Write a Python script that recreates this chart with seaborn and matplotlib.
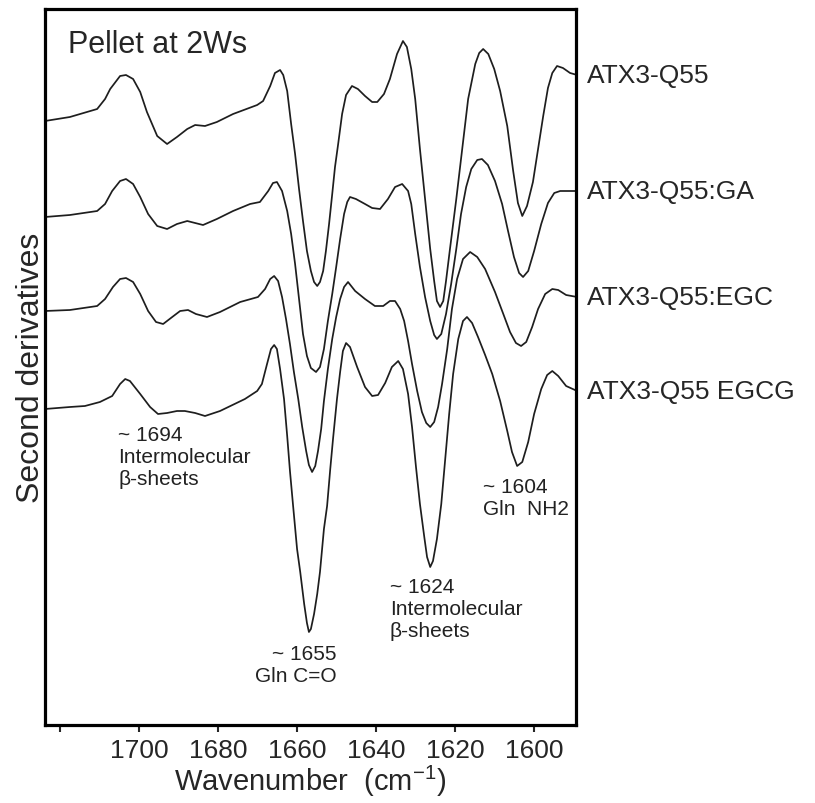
import matplotlib
matplotlib.use("Agg")
import matplotlib.pyplot as plt
import pandas as pd
import seaborn as sns

# ---------------- data (second-derivative FTIR spectra, a.u.) ----------------
samples = ["ATX3-Q55", "ATX3-Q55:GA", "ATX3-Q55:EGC", "ATX3-Q55 EGCG"]
offsets = [0.0, -0.96, -1.90, -2.88]

wn_q55 = [1723.8, 1717.5, 1710.6, 1708.6, 1707.3, 1704.8, 1703.3, 1701.5, 1699.7, 1698.0, 1695.4, 1692.9,
          1690.4, 1687.8, 1685.8, 1683.3, 1680.3, 1676.2, 1670.1, 1668.6, 1666.8, 1665.6, 1664.3, 1663.5,
          1662.5, 1661.5, 1660.5, 1659.5, 1658.5, 1657.5, 1656.5, 1655.7, 1654.9, 1654.2, 1653.4, 1652.7,
          1651.9, 1651.1, 1650.4, 1649.6, 1648.6, 1647.6, 1646.1, 1644.6, 1642.8, 1641.0, 1639.7, 1638.0,
          1636.5, 1634.7, 1633.2, 1632.2, 1631.1, 1630.1, 1628.9, 1627.6, 1626.3, 1625.3, 1624.6, 1623.8,
          1623.0, 1622.3, 1621.3, 1619.7, 1618.2, 1616.7, 1614.9, 1613.9, 1612.9, 1611.6, 1610.1, 1608.6,
          1606.8, 1605.3, 1604.1, 1603.0, 1601.8, 1600.3, 1599.0, 1597.7, 1596.5, 1595.4, 1594.2, 1592.7,
          1590.9, 1589.1]
d2_q55 = [0.00, 0.04, 0.12, 0.22, 0.32, 0.45, 0.46, 0.42, 0.29, 0.09, -0.15, -0.23,
          -0.16, -0.08, -0.04, -0.05, -0.01, 0.07, 0.16, 0.20, 0.35, 0.48, 0.51, 0.46,
          0.30, -0.03, -0.33, -0.68, -1.00, -1.30, -1.50, -1.61, -1.65, -1.61, -1.50, -1.30,
          -1.03, -0.73, -0.46, -0.23, 0.07, 0.26, 0.35, 0.32, 0.25, 0.19, 0.19, 0.27,
          0.42, 0.67, 0.80, 0.74, 0.52, 0.22, -0.28, -0.78, -1.28, -1.60, -1.80, -1.86,
          -1.80, -1.60, -1.28, -0.78, -0.28, 0.22, 0.57, 0.68, 0.72, 0.67, 0.52, 0.30,
          -0.05, -0.50, -0.82, -0.95, -0.85, -0.61, -0.28, 0.05, 0.33, 0.48, 0.55, 0.53,
          0.48, 0.46]

wn_ga = [1723.8, 1717.5, 1710.6, 1708.6, 1706.8, 1704.8, 1703.3, 1701.5, 1699.7, 1697.7, 1695.4, 1692.9,
         1690.4, 1687.8, 1685.8, 1683.8, 1680.3, 1676.2, 1671.9, 1669.4, 1667.3, 1666.1, 1665.1, 1663.8,
         1662.5, 1661.5, 1660.5, 1659.5, 1658.5, 1657.5, 1656.5, 1655.2, 1654.2, 1653.2, 1652.2, 1651.1,
         1650.1, 1649.1, 1648.1, 1647.3, 1646.6, 1645.1, 1642.8, 1641.0, 1639.0, 1637.0, 1635.2, 1633.4,
         1631.9, 1631.1, 1630.1, 1628.9, 1627.6, 1626.3, 1625.3, 1624.6, 1623.5, 1622.3, 1621.0, 1619.7,
         1618.5, 1617.2, 1615.9, 1614.4, 1613.2, 1611.7, 1609.9, 1608.1, 1606.6, 1605.1, 1603.8, 1602.8,
         1601.5, 1600.0, 1598.2, 1596.5, 1594.9, 1593.4, 1591.4, 1589.1]
d2_ga = [0.00, 0.02, 0.06, 0.13, 0.26, 0.36, 0.38, 0.33, 0.20, 0.03, -0.09, -0.12,
         -0.07, -0.04, -0.06, -0.08, -0.02, 0.06, 0.13, 0.15, 0.26, 0.34, 0.35, 0.26,
         0.06, -0.17, -0.47, -0.82, -1.17, -1.39, -1.51, -1.55, -1.50, -1.32, -1.04, -0.77,
         -0.50, -0.22, 0.03, 0.15, 0.20, 0.18, 0.13, 0.09, 0.08, 0.18, 0.30, 0.33,
         0.26, 0.13, -0.17, -0.50, -0.80, -1.04, -1.18, -1.22, -1.17, -0.97, -0.67, -0.32,
         0.03, 0.30, 0.48, 0.57, 0.58, 0.52, 0.36, 0.13, -0.14, -0.40, -0.56, -0.60,
         -0.54, -0.34, -0.07, 0.14, 0.24, 0.26, 0.26, 0.26]

wn_egc = [1723.8, 1717.5, 1710.6, 1708.6, 1706.6, 1704.8, 1703.3, 1701.5, 1699.7, 1697.7, 1695.7, 1693.9,
          1691.6, 1689.6, 1687.6, 1685.6, 1682.8, 1679.5, 1674.4, 1669.9, 1668.1, 1666.8, 1665.8, 1664.8,
          1663.8, 1662.8, 1661.8, 1660.8, 1659.7, 1658.7, 1657.7, 1657.0, 1656.2, 1655.4, 1654.7, 1653.9,
          1653.2, 1652.2, 1651.1, 1650.1, 1649.1, 1648.1, 1647.1, 1645.3, 1642.8, 1640.3, 1638.2, 1636.5,
          1635.2, 1633.9, 1632.9, 1631.9, 1630.9, 1629.6, 1628.4, 1627.3, 1626.3, 1625.3, 1624.3, 1623.3,
          1622.0, 1620.8, 1619.5, 1618.0, 1616.2, 1614.4, 1612.4, 1609.9, 1607.8, 1606.1, 1604.6, 1603.3,
          1602.0, 1600.5, 1599.0, 1597.2, 1595.4, 1593.9, 1591.9, 1589.1]
d2_egc = [0.00, 0.01, 0.05, 0.12, 0.24, 0.32, 0.33, 0.29, 0.17, 0.00, -0.11, -0.13,
          -0.06, 0.00, 0.01, -0.03, -0.06, -0.01, 0.09, 0.14, 0.22, 0.32, 0.35, 0.30,
          0.14, -0.08, -0.33, -0.61, -0.88, -1.16, -1.40, -1.54, -1.61, -1.55, -1.40, -1.18,
          -0.90, -0.58, -0.28, -0.06, 0.12, 0.24, 0.29, 0.20, 0.12, 0.05, 0.05, 0.10,
          0.10, 0.02, -0.10, -0.30, -0.53, -0.80, -1.01, -1.12, -1.16, -1.11, -0.96, -0.73,
          -0.38, 0.02, 0.32, 0.52, 0.59, 0.54, 0.42, 0.19, -0.03, -0.21, -0.32, -0.35,
          -0.31, -0.16, 0.02, 0.17, 0.22, 0.21, 0.16, 0.14]

wn_egcg = [1723.8, 1717.5, 1713.7, 1709.9, 1706.8, 1704.8, 1703.5, 1702.3, 1699.7, 1697.2, 1695.2, 1692.9,
           1690.4, 1688.4, 1685.8, 1683.3, 1679.5, 1673.2, 1670.1, 1668.9, 1667.6, 1666.6, 1665.8, 1665.1,
           1664.3, 1663.3, 1662.5, 1661.8, 1661.0, 1660.0, 1659.2, 1658.2, 1657.5, 1657.0, 1656.5, 1655.7,
           1654.9, 1654.2, 1653.2, 1652.4, 1651.6, 1650.9, 1649.9, 1649.1, 1648.4, 1647.6, 1646.6, 1644.8,
           1642.8, 1641.0, 1639.5, 1637.7, 1636.0, 1634.4, 1633.2, 1631.9, 1630.9, 1629.9, 1628.9, 1627.8,
           1627.1, 1626.3, 1625.6, 1624.6, 1623.5, 1622.5, 1621.5, 1620.5, 1619.2, 1618.0, 1617.0, 1615.7,
           1614.2, 1612.4, 1610.6, 1608.6, 1606.8, 1605.6, 1604.3, 1603.0, 1601.5, 1600.0, 1598.2, 1596.7,
           1595.4, 1593.9, 1591.9, 1589.1]
d2_egcg = [0.00, 0.02, 0.03, 0.07, 0.13, 0.25, 0.30, 0.28, 0.15, 0.02, -0.05, -0.04,
           -0.02, -0.02, -0.04, -0.07, -0.02, 0.10, 0.18, 0.25, 0.45, 0.60, 0.64, 0.60,
           0.40, 0.10, -0.27, -0.62, -0.97, -1.40, -1.63, -1.95, -2.14, -2.23, -2.20, -2.05,
           -1.85, -1.63, -1.20, -0.97, -0.60, -0.30, 0.10, 0.37, 0.58, 0.66, 0.62, 0.42,
           0.22, 0.13, 0.14, 0.26, 0.42, 0.48, 0.40, 0.15, -0.18, -0.58, -0.95, -1.28,
           -1.48, -1.58, -1.52, -1.30, -0.95, -0.50, -0.05, 0.35, 0.70, 0.88, 0.92, 0.86,
           0.72, 0.54, 0.35, 0.08, -0.22, -0.43, -0.57, -0.53, -0.33, -0.05, 0.20, 0.34,
           0.38, 0.33, 0.23, 0.18]

tick_values = [1720, 1700, 1680, 1660, 1640, 1620, 1600]
tick_labels = ["", "1700", "1680", "1660", "1640", "1620", "1600"]

annot_texts = ["~ 1694\nIntermolecular\nβ-sheets", "~ 1655\nGln C=O",
               "~ 1624\nIntermolecular\nβ-sheets", "~ 1604\nGln  NH2"]
annot_x = [1705.3, 1649.9, 1636.5, 1612.9]
annot_y = [-3.04, -5.23, -4.56, -3.56]
annot_ha = ["left", "right", "left", "left"]

# ---------------- build long table ----------------
wn_all = [wn_q55, wn_ga, wn_egc, wn_egcg]
d2_all = [d2_q55, d2_ga, d2_egc, d2_egcg]
frames = []
for name, off, w, d in zip(samples, offsets, wn_all, d2_all):
    frames.append(pd.DataFrame({"wavenumber": w,
                                "signal": [v + off for v in d],
                                "sample": name}))
df = pd.concat(frames, ignore_index=True)

# ---------------- style ----------------
sns.set_style("white")
plt.rcParams["font.family"] = ["Liberation Sans", "DejaVu Sans"]
plt.rcParams["mathtext.fontset"] = "custom"
plt.rcParams["mathtext.rm"] = "Liberation Sans"

fig = plt.figure(figsize=(8.15, 8.04), dpi=100)
ax = fig.add_axes([45 / 815, 1 - 726 / 804, 531 / 815, 716 / 804])

sns.lineplot(data=df, x="wavenumber", y="signal", hue="sample", hue_order=samples,
             palette=["#1e1e1e"] * 4, estimator=None, sort=False, linewidth=1.25,
             legend=False, ax=ax)
for ln in ax.lines:
    ln.set_solid_joinstyle("round")

ax.set_xlim(1723.8, 1589.4)
ax.set_ylim(-6.04, 1.12)

for sp in ax.spines.values():
    sp.set_linewidth(2.3)
    sp.set_color("black")

ax.set_yticks([])
ax.set_xticks(tick_values)
ax.set_xticklabels(tick_labels, fontsize=19)
ax.tick_params(axis="x", direction="out", length=5, width=1.5, pad=4, bottom=True)

ax.set_xlabel("Wavenumber  (cm$^{\\mathregular{-1}}$)", fontsize=21)
ax.xaxis.set_label_coords(0.5, -0.053)
ax.xaxis.label.set_va("top")

ax.set_ylabel("Second derivatives", fontsize=23)
ax.yaxis.set_label_coords(-0.026, 0.5)
ax.yaxis.label.set_va("center")

ax.text(0.043, 0.94, "Pellet at 2Ws", transform=ax.transAxes, fontsize=22,
        ha="left", va="baseline")

for name, off, d in zip(samples, offsets, d2_all):
    ax.annotate(name, xy=(1589.4, d[-1] + off), xycoords="data",
                xytext=(8, 0), textcoords="offset points", fontsize=19,
                ha="left", va="center", annotation_clip=False)

for t, x, y, ha in zip(annot_texts, annot_x, annot_y, annot_ha):
    ax.text(x, y, t, fontsize=15, ha=ha, va="top", multialignment=ha,
            linespacing=1.2, color="#222222")

fig.savefig("out.png", dpi=100)
